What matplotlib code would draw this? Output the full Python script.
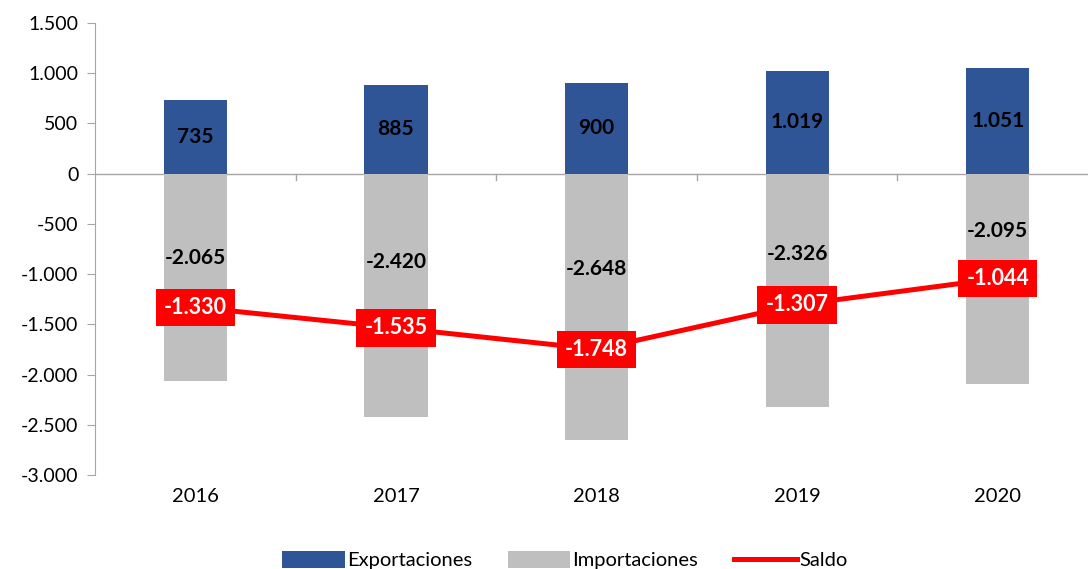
import matplotlib.pyplot as plt
import numpy as np

plt.rcParams['font.family'] = ['Lato', 'DejaVu Sans']

# Data
years = ['2016', '2017', '2018', '2019', '2020']
exportaciones = [735, 885, 900, 1019, 1051]
importaciones = [-2065, -2420, -2648, -2326, -2095]
saldo = [-1330, -1535, -1748, -1307, -1044]

# where the import labels sit (moved by hand in the original)
imp_label_y = [-840, -880, -950, -800, -570]


def fmt(v):
    return '{:,.0f}'.format(v).replace(',', '.')


blue = '#2F5597'
gray = '#BFBFBF'
red = '#FF0000'
axis_col = '#A6A6A6'

fig = plt.figure(figsize=(10.88, 5.69), dpi=100)
ax = fig.add_axes([95 / 1088, 1 - 475 / 569, 993 / 1088, 452 / 569])

x = np.arange(len(years))
w = 0.315
b1 = ax.bar(x, exportaciones, w, color=blue, label='Exportaciones', zorder=2)
b2 = ax.bar(x, importaciones, w, color=gray, label='Importaciones', zorder=2)
l1, = ax.plot(x, saldo, color=red, lw=3.6, label='Saldo', zorder=3)

for i in range(len(years)):
    ax.text(x[i], exportaciones[i] / 2, fmt(exportaciones[i]), ha='center', va='center',
            fontsize=15, fontweight='bold', color='black', zorder=4)
    ax.text(x[i], imp_label_y[i], fmt(importaciones[i]), ha='center', va='center',
            fontsize=15, fontweight='bold', color='black', zorder=4)
    ax.text(x[i], saldo[i], fmt(saldo[i]), ha='center', va='center',
            fontsize=15.5, fontweight='bold', color='white', zorder=5,
            bbox=dict(boxstyle='square,pad=0.38', fc=red, ec='none'))

ax.set_ylim(-3000, 1500)
ax.set_xlim(-0.5, 4.45)
ax.set_yticks(np.arange(-3000, 1501, 500))
ax.set_yticklabels([fmt(v) for v in np.arange(-3000, 1501, 500)], fontsize=14)

# x axis drawn along zero, ticks between categories
ax.set_xticks([])
for s in ['top', 'right', 'bottom']:
    ax.spines[s].set_visible(False)
ax.spines['left'].set_color(axis_col)
ax.tick_params(axis='y', colors=axis_col, labelcolor='black', length=6, pad=6)
ax.axhline(0, color=axis_col, lw=1, zorder=1)
for b in np.arange(0.5, 4.5, 1):
    ax.plot([b, b], [0, -60], color=axis_col, lw=1, zorder=1, clip_on=False)
for i, yr in enumerate(years):
    ax.text(x[i], -3210, yr, ha='center', va='center', fontsize=14.5)

fig.legend([b1, b2, l1], ['Exportaciones', 'Importaciones', 'Saldo'],
           loc='center', bbox_to_anchor=(0.519, 1 - 560 / 569), ncol=3, frameon=False,
           fontsize=14.5, handlelength=3.1, handleheight=0.9, columnspacing=1.8,
           handletextpad=0.1)

fig.savefig('out.png', dpi=100)
